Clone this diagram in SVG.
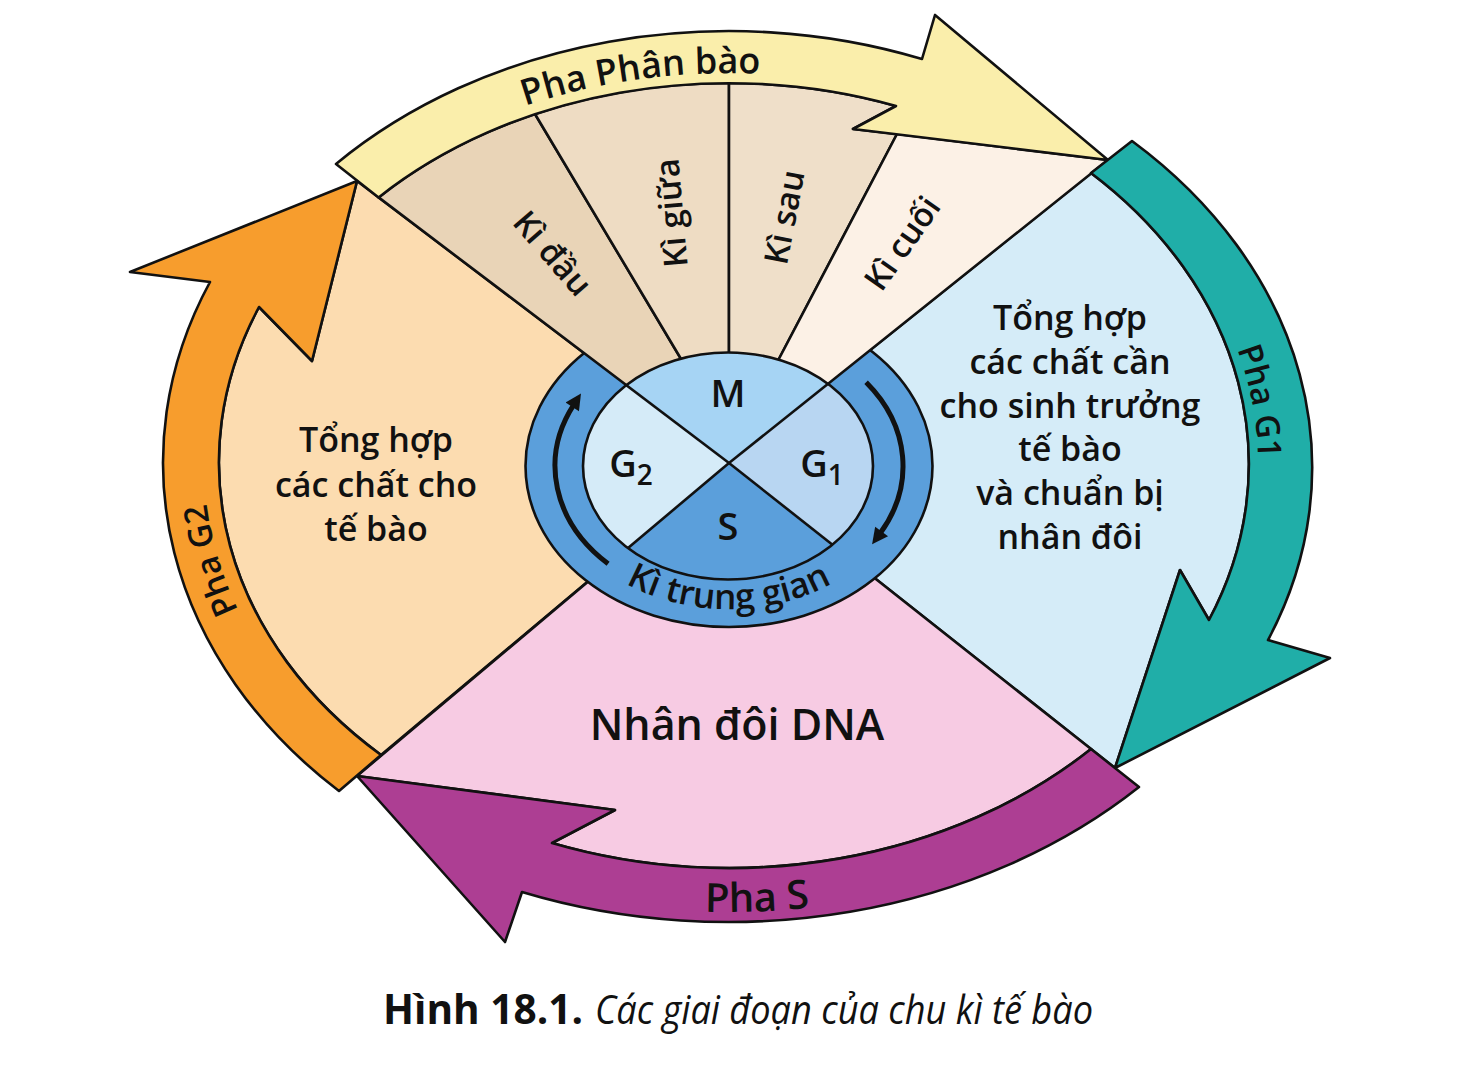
<svg xmlns="http://www.w3.org/2000/svg" width="1475" height="1066" viewBox="0 0 1475 1066">
<defs>
<style>
.o{stroke:#111;stroke-width:2.6;stroke-linejoin:round}
.t{font-family:"Open Sans","Noto Sans","DejaVu Sans",sans-serif;font-weight:600;fill:#111}
.big{font-size:34px;text-anchor:middle}
.ki{font-size:33px;text-anchor:middle}
.c{font-size:38px;text-anchor:middle}
</style>
<clipPath id="ic"><ellipse cx="728" cy="466" rx="145" ry="113.5"/></clipPath>
<marker id="ah" viewBox="0 0 10 10" refX="2" refY="5" markerWidth="20" markerHeight="16" markerUnits="userSpaceOnUse" orient="auto"><path d="M0,0 L10,5 L0,10 Z" fill="#111"/></marker>
<path id="pPB" d="M221 463 A508 390 0 0 1 1237 463"/>
<path id="pS" d="M163 463 A566 449 0 0 0 1295 463"/>
<path id="pG2" d="M348.8 747.8 A525 413 0 0 1 225.4 346.4"/>
<path id="pG1" d="M1136.9 202.5 A529 409 0 0 1 1224.7 605.8"/>
<path id="pKTG" d="M559.4 515.5 A181 144 0 0 0 898.6 515.5"/>
</defs>
<rect width="1475" height="1066" fill="#fff"/>

<g id="region-G2"><path class="o" fill="#fcdcb0" d="M729 463 L381 755 A510 400 0 0 1 259 307 L312 361 L357 181 Z"/></g>
<g id="region-G1"><path class="o" fill="#d5ecf8" d="M729 463 L1091 173 A518 405 0 0 1 1209 620 L1180 570 L1115 768 Z"/></g>
<g id="region-S"><path class="o" fill="#f7cbe3" d="M729 463 L1091 749 A511 405 0 0 1 552 843 L615 810 L357 776 Z"/></g>

<g id="ring-ki-trung-gian"><ellipse class="o" cx="729" cy="466" rx="203.5" ry="161" fill="#5b9fdb"/></g>

<g id="M-phase">
<path class="o" fill="#e9d4b7" d="M729 463 L378.6 197.4 A490 380 0 0 1 535 114 L690 374 Z"/>
<path class="o" fill="#eedcc3" d="M690 374 L535 114 A490 380 0 0 1 729 83 L729 374 Z"/>
<path class="o" fill="#efdfc9" d="M729 374 L729 83 A490 380 0 0 1 896 106 L853 129 L897 134 L771 374 Z"/>
<path class="o" fill="#fcf1e6" d="M771 374 L897 134 L1108 160 L729 463 Z"/>
</g>

<g id="inner-circle">
<g clip-path="url(#ic)">
<polygon fill="#a6d4f4" points="729,463 357,181 1108,160"/>
<polygon fill="#b8d6f2" points="729,463 1108,160 1115,768"/>
<polygon fill="#5b9fdb" points="729,463 1115,768 357,776"/>
<polygon fill="#d5ebf8" points="729,463 357,776 357,181"/>
<g stroke="#111" stroke-width="2.6">
<line x1="729" y1="463" x2="357" y2="181"/>
<line x1="729" y1="463" x2="1108" y2="160"/>
<line x1="729" y1="463" x2="1115" y2="768"/>
<line x1="729" y1="463" x2="357" y2="776"/>
</g>
</g>
<ellipse class="o" cx="728" cy="466" rx="145" ry="113.5" fill="none"/>
</g>

<g id="connectors" fill="none">
<path class="o" fill="#faeeab" d="M378.6 197.4 A490 380 0 0 1 896 106 L853 129 L1108 160 L935 15 L922 59 A545 432 0 0 0 336 164 Z"/>
<path class="o" fill="#20aea8" d="M1091 173 A518 405 0 0 1 1209 620 L1180 570 L1115 768 L1330 658 L1268 640 A578 450 0 0 0 1132 141 Z"/>
<path class="o" fill="#ad3e93" d="M1091 749 A511 405 0 0 1 552 843 L615 810 L357 776 L505 942 L522 892 A580 459 0 0 0 1139 787 Z"/>
<path class="o" fill="#f79d2d" d="M381 755 A510 400 0 0 1 259 307 L312 361 L357 181 L130 272 L210 282 A566 453 0 0 0 339 791 Z"/>
<path d="M608.1 563.8 A174 136 0 0 1 574 404.3" stroke="#111" stroke-width="5" marker-end="url(#ah)"/>
<path d="M866.1 382.3 A174 136 0 0 1 879.7 534" stroke="#111" stroke-width="5" marker-end="url(#ah)"/>
</g>

<g id="labels" class="t">
<text class="c" x="728" y="407">M</text>
<text class="c" x="631" y="477">G<tspan font-size="28" dy="8">2</tspan></text>
<text class="c" x="822" y="477">G<tspan font-size="28" dy="8">1</tspan></text>
<text class="c" x="728" y="540" font-size="37">S</text>
<text font-size="35"><textPath href="#pKTG" startOffset="50%" text-anchor="middle">Kì trung gian</textPath></text>
<text font-size="36"><textPath href="#pPB" startOffset="620" text-anchor="middle">Pha Phân bào</textPath></text>
<text font-size="33"><textPath href="#pG2" startOffset="52%" text-anchor="middle">Pha G2</textPath></text>
<text font-size="33"><textPath href="#pG1" startOffset="53%" text-anchor="middle">Pha G1</textPath></text>
<text font-size="40"><textPath href="#pS" startOffset="828" text-anchor="middle">Pha S</textPath></text>
<text class="ki" transform="translate(553 253) rotate(49)" dy="12">Kì đầu</text>
<text class="ki" transform="translate(671 213) rotate(-95)" dy="12">Kì giữa</text>
<text class="ki" transform="translate(784 217) rotate(-79)" dy="12">Kì sau</text>
<text class="ki" transform="translate(902 243) rotate(-55)" dy="12">Kì cuối</text>
<text class="big" x="376"><tspan x="376" y="452">Tổng hợp</tspan><tspan x="376" y="497">các chất cho</tspan><tspan x="376" y="541">tế bào</tspan></text>
<text class="big" x="1070"><tspan x="1070" y="330">Tổng hợp</tspan><tspan x="1070" y="374">các chất cần</tspan><tspan x="1070" y="418">cho sinh trưởng</tspan><tspan x="1070" y="461">tế bào</tspan><tspan x="1070" y="505">và chuẩn bị</tspan><tspan x="1070" y="549">nhân đôi</tspan></text>
<text font-size="43" text-anchor="middle" x="737" y="740">Nhân đôi DNA</text>
</g>

<g id="caption" class="t">
<text x="383" y="1024" font-size="41" font-weight="700" textLength="200" lengthAdjust="spacingAndGlyphs">Hình 18.1.</text>
<text x="595" y="1024" font-size="40" font-weight="400" font-style="italic" textLength="498" lengthAdjust="spacingAndGlyphs">Các giai đoạn của chu kì tế bào</text>
</g>
</svg>
